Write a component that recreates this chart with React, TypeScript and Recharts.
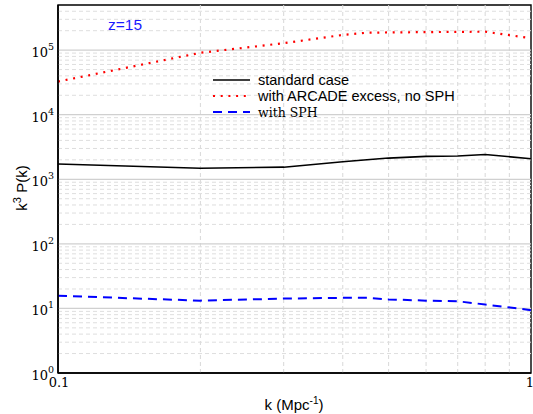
import React from 'react';
import { LineChart, Line, XAxis, YAxis, ReferenceLine, ReferenceArea, Legend } from 'recharts';

// wavenumber k (Mpc^-1) at which the curves were sampled
const kValues = [0.1, 0.2, 0.3, 0.4, 0.45, 0.5, 0.6, 0.7, 0.8, 1.0];

// k^3 P(k) at z=15
const standardCase = [1720, 1480, 1540, 1870, 2010, 2130, 2260, 2290, 2420, 2080];
const arcadeNoSph = [32600, 91000, 128000, 172000, 186000, 188000, 190000, 192000, 193000, 153000];
const withSph = [15.7, 13.2, 14.2, 14.6, 14.6, 13.8, 13.2, 12.9, 11.5, 9.4];

// axis ticks
const yMajorTicks = [1, 10, 100, 1000, 10000, 100000];
const yMinorTicks = [2, 3, 4, 5, 6, 7, 8, 9].flatMap(m => [1, 10, 100, 1000, 10000, 100000].map(d => m * d)).filter(v => v < 5e5);
const xTicks = [0.1, 1];
const xMinorTicks = [0.2, 0.3, 0.4, 0.5, 0.6, 0.7, 0.8, 0.9];

const series = [
  { key: 'standard', name: 'standard case', color: '#000000', dash: undefined, width: 1.6, serif: false },
  { key: 'arcade', name: 'with ARCADE excess, no SPH', color: '#ff0000', dash: '2 5.7', width: 2.2, serif: false },
  { key: 'sph', name: 'with SPH', color: '#0000ff', dash: '9 6', width: 2, serif: true },
];

const data = kValues.map((k, i) => ({
  k,
  standard: standardCase[i],
  arcade: arcadeNoSph[i],
  sph: withSph[i],
}));

const SANS = "'Liberation Sans', Arial, Helvetica, sans-serif";
const SERIF = "'DejaVu Serif', 'Liberation Serif', 'Times New Roman', serif";

const YTick = (props: any) => {
  const { x, y, payload } = props;
  const exp = Math.round(Math.log10(payload.value));
  return (
    <text x={x - 4} y={y + 7} textAnchor="end" style={{ fontFamily: SERIF, fontSize: 13 }} fill="#000">
      10<tspan dy={-7} style={{ fontSize: 9.5 }}>{exp}</tspan>
    </text>
  );
};

const XTick = (props: any) => {
  const { x, y, payload } = props;
  return (
    <text x={x + 1} y={y + 14} textAnchor="middle" style={{ fontFamily: SERIF, fontSize: 13 }} fill="#000">
      {payload.value}
    </text>
  );
};

const LegendBox = () => (
  <svg width={280} height={56}>
    {series.map((s, i) => (
      <g key={s.key}>
        <line x1={8} x2={45} y1={12 + i * 16} y2={12 + i * 16} stroke={s.color} strokeWidth={s.width} strokeDasharray={s.dash} />
        <text
          x={53}
          y={17 + i * 16}
          style={{ fontFamily: s.serif ? SERIF : SANS, fontSize: s.serif ? 12.5 : 14.5 }}
          fill="#000"
        >
          {s.name}
        </text>
      </g>
    ))}
  </svg>
);

export default function App() {
  return (
    <div style={{ position: 'absolute', left: 0, top: 0, width: 533, height: 414, background: '#fff' }}>
      <LineChart width={533} height={414} data={data} margin={{ top: 5, right: 2, bottom: 0, left: 0 }}>
        {xMinorTicks.map(v => (
          <ReferenceLine key={`x${v}`} x={v} stroke="#d8d8d8" strokeDasharray="4 3" />
        ))}
        {yMinorTicks.map(v => (
          <ReferenceLine key={`ym${v}`} y={v} stroke="#dedede" strokeDasharray="4 3" />
        ))}
        {yMajorTicks.slice(1).map(v => (
          <ReferenceLine key={`yM${v}`} y={v} stroke="#d0d0d0" strokeWidth={1.2} />
        ))}
        <XAxis
          dataKey="k"
          type="number"
          scale="log"
          domain={[0.1, 1]}
          ticks={xTicks}
          height={41}
          tickSize={0}
          tickMargin={0}
          axisLine={{ stroke: '#000', strokeWidth: 1.6 }}
          tick={<XTick />}
          allowDataOverflow
        />
        <YAxis
          type="number"
          scale="log"
          domain={[1, 5e5]}
          ticks={yMajorTicks}
          width={58}
          tickSize={0}
          tickMargin={0}
          axisLine={{ stroke: '#000', strokeWidth: 1.6 }}
          tick={<YTick />}
          allowDataOverflow
        />
        <ReferenceArea x1={0.1} x2={1} y1={1} y2={5e5} fill="none" stroke="#000" strokeWidth={1.4} fillOpacity={0} />
        {series.map(s => (
          <Line
            key={s.key}
            dataKey={s.key}
            name={s.name}
            stroke={s.color}
            strokeWidth={s.width}
            strokeDasharray={s.dash}
            dot={false}
            activeDot={false}
            isAnimationActive={false}
          />
        ))}
        <Legend
          layout="vertical"
          align="center"
          verticalAlign="middle"
          content={<LegendBox />}
          wrapperStyle={{ position: 'absolute', left: 205, top: 68, width: 280, height: 56 }}
        />
      </LineChart>
      <div style={{ position: 'absolute', left: 108, top: 17, fontFamily: SANS, fontSize: 15.5, color: '#1a1aff', lineHeight: 1 }}>
        z=15
      </div>
      <svg style={{ position: 'absolute', left: 0, top: 0, pointerEvents: 'none' }} width={533} height={414}>
        <text x={294} y={410} textAnchor="middle" style={{ fontFamily: SANS, fontSize: 15 }} fill="#000">
          k (Mpc<tspan dy={-6} style={{ fontSize: 10 }}>-1</tspan><tspan dy={6}>)</tspan>
        </text>
        <text x={27} y={188} textAnchor="middle" style={{ fontFamily: SANS, fontSize: 15 }} fill="#000" transform="rotate(-90 27 188)">
          k<tspan dy={-6} style={{ fontSize: 11 }}>3</tspan><tspan dy={6}> P(k)</tspan>
        </text>
      </svg>
    </div>
  );
}
